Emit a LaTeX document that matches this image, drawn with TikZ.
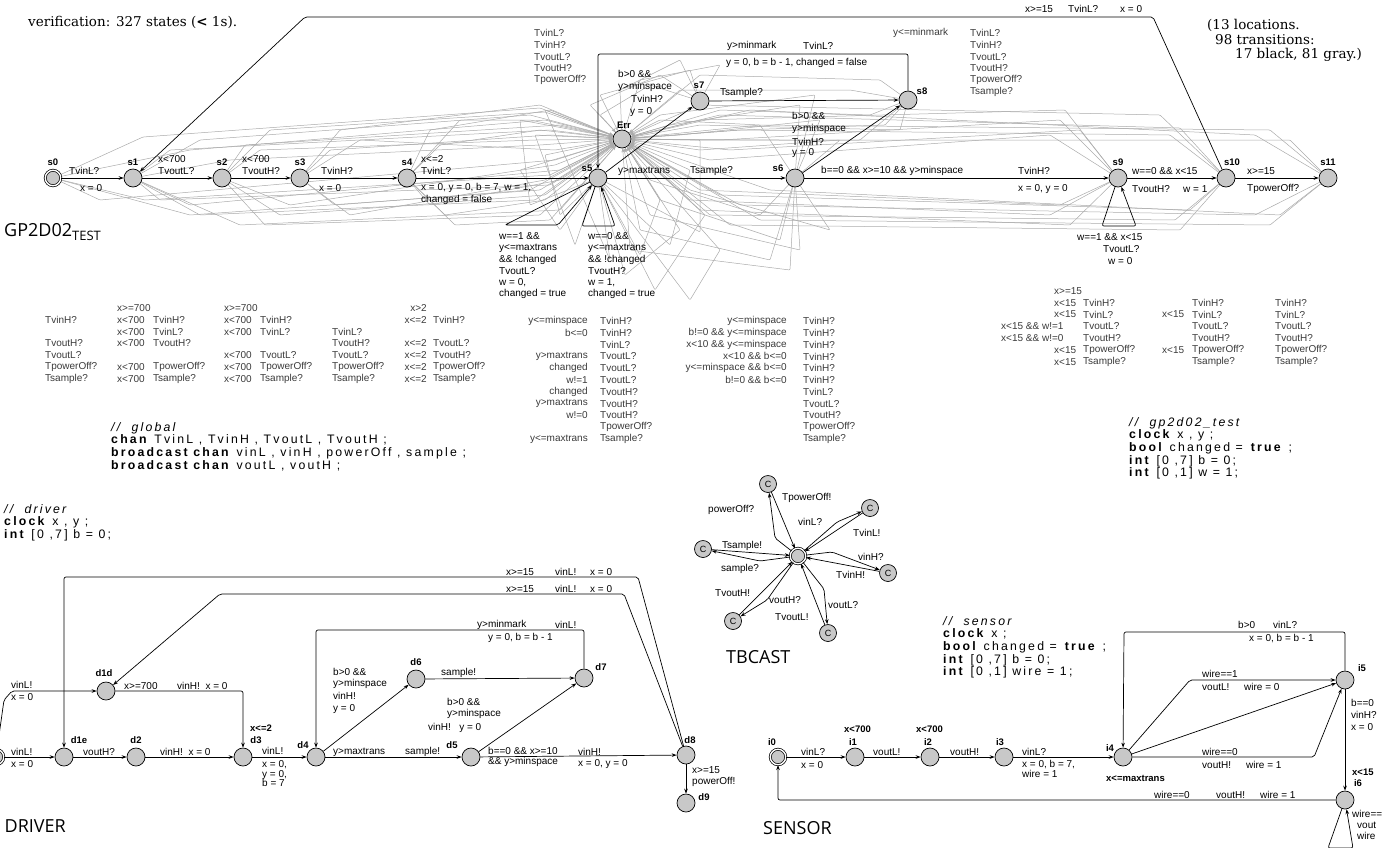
\documentclass[tikz,border=0pt]{standalone}
\usepackage{fontspec}
\usetikzlibrary{arrows.meta}
\newfontfamily\labf{Liberation Sans}
\newfontfamily\codef[LetterSpace=18]{Liberation Sans}
\newfontfamily\titf{Open Sans}
\newfontfamily\serf{DejaVu Serif}
\definecolor{locfill}{HTML}{C8C8C8}
\definecolor{gline}{HTML}{ABABAB}
\definecolor{gtext}{HTML}{3A3A3A}
\pgfdeclarelayer{bg}
\pgfsetlayers{bg,main}
\tikzset{
 loc/.style={circle,draw,fill=locfill,line width=0.7pt,minimum size=18pt,inner sep=0pt},
 iloc/.style={loc,double,double distance=1.4pt,minimum size=15.5pt},
 cloc/.style={loc,minimum size=17pt,font=\labf\fontsize{9}{9}\selectfont},
 lab/.style={font=\labf\fontsize{10}{11.8}\selectfont,inner sep=0pt,anchor=west},
 mlab/.style={lab,align=left,anchor=north west},
 glab/.style={lab,text=gtext},
 nm/.style={font=\labf\bfseries\fontsize{9.5}{11}\selectfont,inner sep=0pt},
 blab/.style={lab,font=\labf\bfseries\fontsize{9.5}{11}\selectfont},
 e/.style={draw,line width=0.7pt,-{Stealth[length=5pt,width=3.6pt]},rounded corners=2pt},
 ge/.style={draw=gline,line width=0.5pt,-{Stealth[length=4pt,width=3pt]},rounded corners=1pt},
 code/.style={font=\codef\fontsize{12.3}{12.7}\selectfont,inner sep=0pt,anchor=north west,align=left},
 ttl/.style={font=\titf\fontsize{18}{20}\selectfont,inner sep=0pt,anchor=west},
 ser/.style={font=\serf\fontsize{13.5}{15}\selectfont,inner sep=0pt,anchor=west},
}
\newcommand\tcol[4]{\foreach \t [count=\i] in {#4} {\node[glab,anchor=#3] at (#1,{#2+(\i-1)*11.8}) {\t};}}
\begin{document}
\begin{tikzpicture}[x=1pt,y=-1pt]
\useasboundingbox (0,0) rectangle (1387,847);
\clip (0,0) rectangle (1387,847);

% ---------- header texts
\node[ser] (ver) at (28,22) {verification: 327 states (\textbf{<} 1s).};
\node[ser] (st1) at (1207,25) {(13 locations.};
\node[ser] (st2) at (1215,40) {98 transitions:};
\node[ser] (st3) at (1235,55) {17 black, 81 gray.)};

% ---------- GP2D02_TEST automaton
\node[iloc] (s0) at (53,178) {};
\node[loc] (s1) at (133,178) {};
\node[loc] (s2) at (222,178) {};
\node[loc] (s3) at (300,178) {};
\node[loc] (s4) at (407,178) {};
\node[loc] (s5) at (598,178) {};
\node[loc] (Err) at (622,139) {};
\node[loc] (s7) at (700,101) {};
\node[loc] (s8) at (908,100) {};
\node[loc] (s6) at (795,178) {};
\node[loc] (s9) at (1118,178) {};
\node[loc] (s10) at (1226,178) {};
\node[loc] (s11) at (1328,178) {};
\foreach \n/\x/\y in {s0/53/162,s1/133/162,s2/222/162,s3/300/162,s4/407/162,s5/587/168,Err/624/125,s7/699/85,s8/922/91,s6/778/168,s9/1118/162,s10/1232/162,s11/1328/162}
  \node[nm] (n\n) at (\x,\y) {\n};

% gray transitions to Err
\begin{pgfonlayer}{bg}
\foreach \s/\ax/\ay/\bx/\by in {
 s0/143/137/540/108, s0/190/150/545/120, s0/145/200/550/175, s0/190/215/540/190, s0/100/200/555/160,
 s1/200/140/530/115, s1/170/150/550/130, s1/190/205/560/170, s1/200/215/535/200, s1/230/160/540/145, s1/160/200/550/185, s1/240/225/560/210,
 s2/270/130/545/112, s2/260/150/535/140, s2/280/215/545/195, s2/290/205/555/165, s2/245/145/560/125, s2/265/225/540/215,
 s3/340/130/540/105, s3/330/150/550/135, s3/350/215/545/180, s3/335/205/530/190, s3/360/140/555/150,
 s4/430/130/550/110, s4/440/145/540/130, s4/445/215/545/200, s4/430/205/560/180, s4/460/120/530/120, s4/455/225/550/220,
 s5/560/230/520/170, s5/575/245/535/135, s5/610/260/545/110, s5/640/255/660/200, s5/670/245/690/170, s5/700/232/700/140,
 s5/560/215/545/155, s5/625/275/680/230, s5/655/290/705/215, s5/530/205/520/120, s5/690/300/720/250,
 s6/815/95/660/115, s6/800/105/670/125, s6/820/120/680/135, s6/780/240/660/200, s6/800/250/650/215, s6/770/260/640/230,
 s6/830/230/690/190, s6/760/125/660/120, s6/840/140/700/150, s6/790/270/630/250, s6/760/215/650/180,
 s7/680/60/620/90, s7/690/70/600/95, s7/660/75/590/105, s7/720/65/640/80, s7/650/85/600/115,
 s8/880/80/700/75, s8/870/115/720/110, s8/900/130/700/125, s8/850/90/680/90, s8/885/125/740/130, s8/860/140/690/140,
 s9/1065/110/700/120, s9/1060/120/720/140, s9/1050/135/710/160, s9/1060/205/700/190, s9/1050/215/690/200, s9/1070/225/700/210, s9/1080/130/730/150,
 s10/1180/128/720/115, s10/1170/135/740/130, s10/1190/210/720/195, s10/1175/220/710/215, s10/1160/115/700/105, s10/1180/230/730/225,
 s11/1255/135/750/110, s11/1270/130/760/125, s11/1255/215/740/205, s11/1270/225/760/220, s11/1290/140/780/140, s11/1280/215/770/190}
 \draw[ge] (\s) -- (\ax,\ay) -- (\bx,\by) -- (Err);
\end{pgfonlayer}

% black transitions
\draw[e] (s0) -- (s1);
\draw[e] (s1) -- (s2);
\draw[e] (s2) -- (s3);
\draw[e] (s3) -- (s4);
\draw[e] (s4) -- (s5);
\draw[e] (s5) -- (s6);
\draw[e] (s6) -- (s9);
\draw[e] (s9) -- (s10);
\draw[e] (s10) -- (s11);
\draw[e] (s5) -- (s7);
\draw[e] (s7) -- (s8);
\draw[e] (s6) -- (s8);
\draw[e] (s8) -- (908,54) -- (598,54) -- (s5);
\draw[e] (s10) -- (1153,17) -- (305,17) -- (s1);
\draw[e] (s5) -- (505,225) -- (558,225) -- (s5);
\draw[e] (s5) -- (582,226) -- (615,226) -- (s5);
\draw[e] (s9) -- (1102,226) -- (1136,226) -- (s9);

% black labels
\node[lab] at (69,171) {TvinL?};
\node[lab] at (80,188) {x = 0};
\node[lab] at (158,159) {x<700};
\node[lab] at (158,171) {TvoutL?};
\node[lab] at (242,159) {x<700};
\node[lab] at (242,171) {TvoutH?};
\node[lab] at (321,171) {TvinH?};
\node[lab] at (319,188) {x = 0};
\node[lab] at (421,159) {x<=2};
\node[lab] at (421,171) {TvinL?};
\node[mlab] at (421,183) {x = 0, y = 0, b = 7, w = 1,\\changed = false};
\node[lab] at (618,171) {y>maxtrans};
\node[lab] at (690,171) {Tsample?};
\node[mlab] at (618,70) {b>0 \&\&\\y>minspace};
\node[lab] at (631,99) {TvinH?};
\node[lab] at (630,112) {y = 0};
\node[lab] at (720,93) {Tsample?};
\node[lab] at (727,46) {y>minmark};
\node[lab] at (803,46) {TvinL?};
\node[lab] at (726,63) {y = 0, b = b - 1, changed = false};
\node[mlab] at (792,112) {b>0 \&\&\\y>minspace};
\node[lab] at (792,142) {TvinH?};
\node[lab] at (792,153) {y = 0};
\node[lab] at (821,171) {b==0 \&\& x>=10 \&\& y>minspace};
\node[lab] at (1018,171) {TvinH?};
\node[lab] at (1018,189) {x = 0, y = 0};
\node[lab] at (1132,171) {w==0 \&\& x<15};
\node[lab] at (1132,189) {TvoutH?};
\node[lab] at (1183,189) {w = 1};
\node[lab] at (1247,171) {x>=15};
\node[lab] at (1247,189) {TpowerOff?};
\node[lab] at (1025,9) {x>=15};
\node[lab] at (1068,9) {TvinL?};
\node[lab] at (1120,9) {x = 0};
\node[mlab] at (499,232) {w==1 \&\&\\y<=maxtrans\\\&\& !changed\\TvoutL?};
\node[mlab] at (499,278) {w = 0,\\changed = true};
\node[mlab] at (588,232) {w==0 \&\&\\y<=maxtrans\\\&\& !changed\\TvoutH?};
\node[mlab] at (588,278) {w = 1,\\changed = true};
\node[lab] at (1077,237) {w==1 \&\& x<15};
\node[lab] at (1103,249) {TvoutL?};
\node[lab] at (1108,261) {w = 0};

% gray transition labels
\tcol{534}{33}{west}{TvinL?,TvinH?,TvoutL?,TvoutH?,TpowerOff?}
\node[glab] at (893,33) {y<=minmark};
\tcol{970}{33}{west}{TvinL?,TvinH?,TvoutL?,TvoutH?,TpowerOff?,Tsample?}
\tcol{45}{308}{west}{{},TvinH?,{},TvoutH?,TvoutL?,TpowerOff?,Tsample?}
\tcol{117}{308}{west}{x>=700,x<700,x<700,x<700,{},x<700,x<700}
\tcol{153}{308}{west}{{},TvinH?,TvinL?,TvoutH?,{},TpowerOff?,Tsample?}
\tcol{224}{308}{west}{x>=700,x<700,x<700,{},x<700,x<700,x<700}
\tcol{260}{308}{west}{{},TvinH?,TvinL?,{},TvoutL?,TpowerOff?,Tsample?}
\tcol{332}{308}{west}{{},{},TvinL?,TvoutH?,TvoutL?,TpowerOff?,Tsample?}
\tcol{427}{308}{east}{x>2,x<=2,{},x<=2,x<=2,x<=2,x<=2}
\tcol{433}{308}{west}{{},TvinH?,{},TvoutL?,TvoutH?,TpowerOff?,Tsample?}
\tcol{588}{321}{east}{y<=minspace,b<=0,{},y>maxtrans,changed,w!=1,changed,y>maxtrans,w!=0,{},y<=maxtrans}
\tcol{600}{321}{west}{TvinH?,TvinH?,TvinL?,TvoutL?,TvoutL?,TvoutL?,TvoutH?,TvoutH?,TvoutH?,TpowerOff?,Tsample?}
\tcol{787}{321}{east}{y<=minspace,b!=0 \&\& y<=minspace,x<10 \&\& y<=minspace,x<10 \&\& b<=0,y<=minspace \&\& b<=0,b!=0 \&\& b<=0}
\tcol{803}{321}{west}{TvinH?,TvinH?,TvinH?,TvinH?,TvinH?,TvinH?,TvinL?,TvoutL?,TvoutH?,TpowerOff?,Tsample?}
\tcol{1054}{291}{west}{x>=15,x<15,x<15,{},{},x<15,x<15}
\tcol{1001}{291}{west}{{},{},{},x<15 \&\& w!=1,x<15 \&\& w!=0}
\tcol{1083}{291}{west}{{},TvinH?,TvinL?,TvoutL?,TvoutH?,TpowerOff?,Tsample?}
\tcol{1162}{291}{west}{{},{},x<15,{},{},x<15}
\tcol{1192}{291}{west}{{},TvinH?,TvinL?,TvoutL?,TvoutH?,TpowerOff?,Tsample?}
\tcol{1275}{291}{west}{{},TvinH?,TvinL?,TvoutL?,TvoutH?,TpowerOff?,Tsample?}

\node[ttl] (gpt) at (4,232) {GP2D02\raisebox{-4pt}{\fontsize{13}{13}\selectfont TEST}};

% ---------- declarations
\node[code] (glob) at (111,422) {{\itshape //\ \ global}\\\textbf{chan} TvinL , TvinH , TvoutL , TvoutH ;\\\textbf{broadcast chan} vinL , vinH , powerOff , sample ;\\\textbf{broadcast chan} voutL , voutH ;};
\node[code] (ddecl) at (4,504) {{\itshape //\ \ driver}\\\textbf{clock} x , y ;\\\textbf{int} [0 ,7] b = 0;};
\node[code] (tdecl) at (1129,417) {{\itshape //\ \ gp2d02\_test}\\\textbf{clock} x , y ;\\\textbf{bool} changed = \textbf{true} ;\\\textbf{int} [0 ,7] b = 0;\\\textbf{int} [0 ,1] w = 1;};
\node[code] (sdecl) at (943,616) {{\itshape //\ \ sensor}\\\textbf{clock} x ;\\\textbf{bool} changed = \textbf{true} ;\\\textbf{int} [0 ,7] b = 0;\\\textbf{int} [0 ,1] wire = 1;};

% ---------- TBCAST
\node[iloc] (tc) at (798,556) {};
\node[cloc] (c1) at (768,484) {C};
\node[cloc] (c2) at (870,508) {C};
\node[cloc] (c3) at (703,549) {C};
\node[cloc] (c4) at (888,573) {C};
\node[cloc] (c5) at (733,621) {C};
\node[cloc] (c6) at (828,633) {C};
\draw[e] (c1) -- (tc);
\draw[e] (tc) -- (775,538) -- (c1);
\draw[e] (c2) -- (tc);
\draw[e] (tc) -- (837,522) -- (c2);
\draw[e] (c3) -- (tc);
\draw[e] (tc) -- (760,561) -- (c3);
\draw[e] (c4) -- (tc);
\draw[e] (tc) -- (832,552) -- (c4);
\draw[e] (c5) -- (tc);
\draw[e] (tc) -- (767,600) -- (c5);
\draw[e] (c6) -- (tc);
\draw[e] (tc) -- (824,589) -- (c6);
\node[lab] at (782,498) {TpowerOff!};
\node[lab] at (708,510) {powerOff?};
\node[lab] at (798,522) {vinL?};
\node[lab] at (853,533) {TvinL!};
\node[lab] at (722,546) {Tsample!};
\node[lab] at (721,569) {sample?};
\node[lab] at (858,557) {vinH?};
\node[lab] at (836,575) {TvinH!};
\node[lab] at (715,593) {TvoutH!};
\node[lab] at (769,600) {voutH?};
\node[lab] at (775,617) {TvoutL!};
\node[lab] at (828,605) {voutL?};
\node[ttl] (tbc) at (726,657) {TBCAST};

% ---------- DRIVER
\node[iloc] (d0) at (-4,757) {};
\node[loc] (d1e) at (64,757) {};
\node[loc] (d2) at (136,757) {};
\node[loc] (d3) at (243,757) {};
\node[loc] (d4) at (316,757) {};
\node[loc] (d1d) at (106,691) {};
\node[loc] (d6) at (416,679) {};
\node[loc] (d7) at (584,678) {};
\node[loc] (d5) at (471,757) {};
\node[loc] (d8) at (686,755) {};
\node[loc] (d9) at (686,803) {};
\foreach \n/\x/\y in {d1e/79/740,d2/136/740,d3/256/740,d4/303/745,d1d/104/673,d6/416/662,d7/601/667,d5/452/745,d8/690/740,d9/704/797}
  \node[nm] (n\n) at (\x,\y) {\n};
\node[blab] at (250,728) {x<=2};
\draw[e] (d0) -- (d1e);
\draw[e] (d0) -- (4,700) -- (12,691) -- (d1d);
\draw[e] (d1e) -- (d2);
\draw[e] (d2) -- (d3);
\draw[e] (d1d) -- (243,691) -- (d3);
\draw[e] (d3) -- (d4);
\draw[e] (d4) -- (d5);
\draw[e] (d4) -- (d6);
\draw[e] (d6) -- (d7);
\draw[e] (d7) -- (584,630) -- (316,630) -- (d4);
\draw[e] (d5) -- (d7);
\draw[e] (d5) -- (d8);
\draw[e] (d8) -- (d9);
\draw[e] (d8) -- (638,577) -- (64,577) -- (d1e);
\draw[e] (d8) -- (624,594) -- (220,594) -- (d1d);
\node[lab] at (11,685) {vinL!};
\node[lab] at (11,697) {x = 0};
\node[lab] at (11,752) {vinL!};
\node[lab] at (11,764) {x = 0};
\node[lab] at (83,752) {voutH?};
\node[lab] at (160,752) {vinH!\ \ x = 0};
\node[lab] at (124,686) {x>=700};
\node[lab] at (177,686) {vinH!\ \ x = 0};
\node[mlab] at (262,747) {vinL!\\[1pt]x = 0,\\[-2pt]y = 0,\\[-2pt]b = 7};
\node[lab] at (333,752) {y>maxtrans};
\node[lab] at (405,752) {sample!};
\node[mlab] at (333,668) {b>0 \&\&\\[-1pt]y>minspace\\[1pt]vinH!\\[1pt]y = 0};
\node[lab] at (441,673) {sample!};
\node[lab] at (477,625) {y>minmark};
\node[lab] at (555,625) {vinL!};
\node[lab] at (488,638) {y = 0, b = b - 1};
\node[mlab] at (447,698) {b>0 \&\&\\[-1pt]y>minspace};
\node[lab] at (428,728) {vinH!\ \ \ y = 0};
\node[mlab] at (488,747) {b==0 \&\& x>=10\\[-2pt]\&\& y>minspace};
\node[lab] at (578,752) {vinH!};
\node[lab] at (578,764) {x = 0, y = 0};
\node[mlab] at (692,766) {x>=15\\powerOff!};
\node[lab] at (506,572) {x>=15};
\node[lab] at (555,572) {vinL!};
\node[lab] at (590,572) {x = 0};
\node[lab] at (506,589) {x>=15};
\node[lab] at (555,589) {vinL!};
\node[lab] at (590,589) {x = 0};
\node[ttl,anchor=east] (drv) at (66,826) {DRIVER};

% ---------- SENSOR
\node[iloc] (i0) at (778,757) {};
\node[loc] (i1) at (855,757) {};
\node[loc] (i2) at (930,757) {};
\node[loc] (i3) at (1004,757) {};
\node[loc] (i4) at (1123,757) {};
\node[loc] (i5) at (1345,680) {};
\node[loc] (i6) at (1345,800) {};
\foreach \n/\x/\y in {i0/772/742,i1/853/742,i2/928/742,i3/1000/742,i4/1110/748,i5/1362/668,i6/1358/783}
  \node[nm] (n\n) at (\x,\y) {\n};
\node[blab] at (844,729) {x<700};
\node[blab] at (916,729) {x<700};
\node[blab] at (1106,778) {x<=maxtrans};
\node[blab] at (1352,772) {x<15};
\draw[e] (i0) -- (i1);
\draw[e] (i1) -- (i2);
\draw[e] (i2) -- (i3);
\draw[e] (i3) -- (i4);
\draw[e] (i4) -- (1190,680) -- (i5);
\draw[e] (i4) -- (i5);
\draw[e] (i4) -- (1314,757) -- (i5);
\draw[e] (i5) -- (1345,632) -- (1124,632) -- (i4);
\draw[e] (i5) -- (i6);
\draw[e] (i6) -- (778,800) -- (i0);
\draw[e] (i6) -- (1328,848) -- (1353,848) -- (i6);
\node[lab] at (801,752) {vinL?};
\node[lab] at (801,765) {x = 0};
\node[lab] at (873,752) {voutL!};
\node[lab] at (950,752) {voutH!};
\node[lab] at (1022,752) {vinL?};
\node[mlab] at (1022,760) {x = 0, b = 7,\\[-2pt]wire = 1};
\node[lab] at (1202,674) {wire==1};
\node[lab] at (1202,687) {voutL!};
\node[lab] at (1244,687) {wire = 0};
\node[lab] at (1202,752) {wire==0};
\node[lab] at (1202,765) {voutH!};
\node[lab] at (1246,765) {wire = 1};
\node[lab] at (1238,625) {b>0};
\node[lab] at (1273,625) {vinL?};
\node[lab] at (1249,639) {x = 0, b = b - 1};
\node[mlab] at (1351,699) {b==0\\vinH?\\x = 0};
\node[lab] at (1154,795) {wire==0};
\node[lab] at (1216,795) {voutH!};
\node[lab] at (1260,795) {wire = 1};
\node[lab] at (1352,814) {wire==};
\node[lab] at (1357,825) {vout};
\node[lab] at (1357,836) {wire};
\node[ttl] (sen) at (763,828) {SENSOR};
\end{tikzpicture}
\end{document}
